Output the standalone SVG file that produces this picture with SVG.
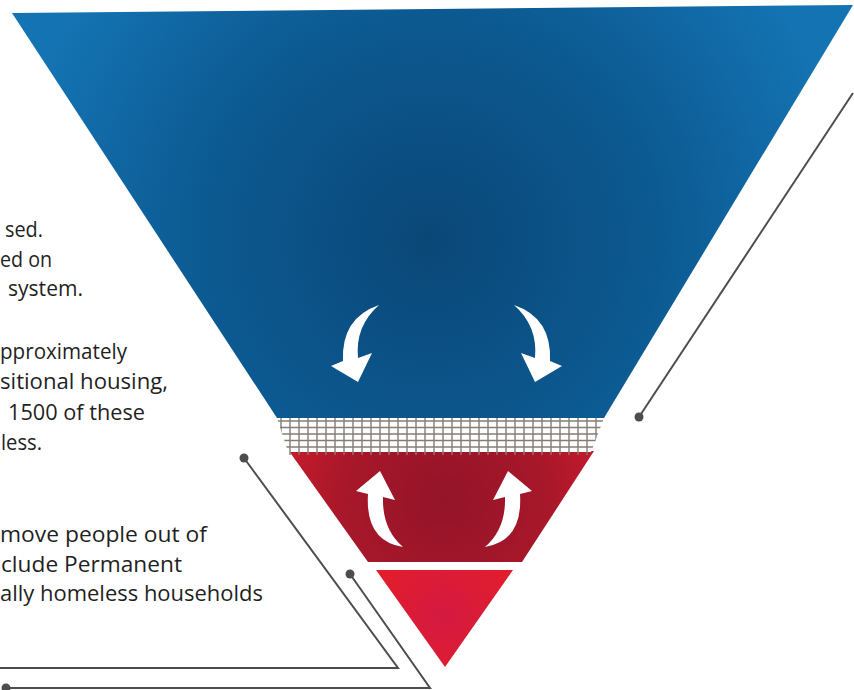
<svg xmlns="http://www.w3.org/2000/svg" width="854" height="690" viewBox="0 0 854 690">
<defs>
<radialGradient id="gBlue" cx="430" cy="240" r="420" gradientUnits="userSpaceOnUse">
<stop offset="0" stop-color="#0a4777"/>
<stop offset="0.55" stop-color="#0c5a92"/>
<stop offset="1" stop-color="#1473b2"/>
</radialGradient>
<radialGradient id="gRed" cx="445" cy="500" r="170" gradientUnits="userSpaceOnUse">
<stop offset="0" stop-color="#931428"/>
<stop offset="0.6" stop-color="#a8172a"/>
<stop offset="1" stop-color="#c81c2c"/>
</radialGradient>
<radialGradient id="gTri" cx="445" cy="615" r="90" gradientUnits="userSpaceOnUse">
<stop offset="0" stop-color="#d41a42"/>
<stop offset="1" stop-color="#e51e26"/>
</radialGradient>
<clipPath id="gridClip">
<polygon points="277,418 604,418 590,455 289,455"/>
</clipPath>
<style>
.txt{font-family:"Open Sans","Liberation Sans",sans-serif;font-size:22px;fill:#1f1f1f}
.conn{fill:none;stroke:#4d4d4d;stroke-width:2}
.dot{fill:#4d4d4d}
.arrow{fill:#ffffff}
.grid line{stroke:#857c76;stroke-width:1.4}
</style>
</defs>
<rect width="854" height="690" fill="#ffffff"/>

<g id="text">
<text class="txt" x="5" y="237" textLength="38" lengthAdjust="spacingAndGlyphs">sed.</text>
<text class="txt" x="0" y="267" textLength="52" lengthAdjust="spacingAndGlyphs">ed on</text>
<text class="txt" x="8" y="296" textLength="75" lengthAdjust="spacingAndGlyphs">system.</text>
<text class="txt" x="0" y="359" textLength="127" lengthAdjust="spacingAndGlyphs">pproximately</text>
<text class="txt" x="0" y="389" textLength="168" lengthAdjust="spacingAndGlyphs">sitional housing,</text>
<text class="txt" x="8" y="420" textLength="137" lengthAdjust="spacingAndGlyphs">1500 of these</text>
<text class="txt" x="1" y="450" textLength="41" lengthAdjust="spacingAndGlyphs">less.</text>
<text class="txt" x="0" y="542" textLength="207" lengthAdjust="spacingAndGlyphs">move people out of</text>
<text class="txt" x="1" y="572" textLength="181" lengthAdjust="spacingAndGlyphs">clude Permanent</text>
<text class="txt" x="0" y="601" textLength="263" lengthAdjust="spacingAndGlyphs">ally homeless households</text>
</g>

<g id="blue-section">
<polygon points="12,13 853,5 604,418 277,418" fill="url(#gBlue)"/>
<path class="arrow" d="M379,305 Q341,318 343,361 L331,366 L358,382 L372,353 L358,358 Q355,326 379,305 Z"/>
<path class="arrow" transform="translate(893,0) scale(-1,1)" d="M379,305 Q341,318 343,361 L331,366 L358,382 L372,353 L358,358 Q355,326 379,305 Z"/>
</g>

<g id="red-section">
<polygon points="289,451 594,451 522,562 368,562" fill="url(#gRed)"/>
<path class="arrow" d="M403,547 Q365,541 368,494 L356,491 L380,471 L395,500 L383,497 Q382,529 403,547 Z"/>
<path class="arrow" transform="translate(888,0) scale(-1,1)" d="M403,547 Q365,541 368,494 L356,491 L380,471 L395,500 L383,497 Q382,529 403,547 Z"/>
</g>

<g id="net">
<polygon points="277,418 604,418 591,452 289,452" fill="#ffffff"/>
<g class="grid" clip-path="url(#gridClip)">
<line x1="270" y1="421" x2="610" y2="421"/>
<line x1="270" y1="427.5" x2="610" y2="427.5"/>
<line x1="270" y1="434" x2="610" y2="434"/>
<line x1="270" y1="440.5" x2="610" y2="440.5"/>
<line x1="270" y1="447" x2="610" y2="447"/>
<line x1="281" y1="418" x2="281" y2="455"/>
<line x1="290" y1="418" x2="290" y2="455"/>
<line x1="299" y1="418" x2="299" y2="455"/>
<line x1="308" y1="418" x2="308" y2="455"/>
<line x1="317" y1="418" x2="317" y2="455"/>
<line x1="326" y1="418" x2="326" y2="455"/>
<line x1="335" y1="418" x2="335" y2="455"/>
<line x1="344" y1="418" x2="344" y2="455"/>
<line x1="353" y1="418" x2="353" y2="455"/>
<line x1="362" y1="418" x2="362" y2="455"/>
<line x1="371" y1="418" x2="371" y2="455"/>
<line x1="380" y1="418" x2="380" y2="455"/>
<line x1="389" y1="418" x2="389" y2="455"/>
<line x1="398" y1="418" x2="398" y2="455"/>
<line x1="407" y1="418" x2="407" y2="455"/>
<line x1="416" y1="418" x2="416" y2="455"/>
<line x1="425" y1="418" x2="425" y2="455"/>
<line x1="434" y1="418" x2="434" y2="455"/>
<line x1="443" y1="418" x2="443" y2="455"/>
<line x1="452" y1="418" x2="452" y2="455"/>
<line x1="461" y1="418" x2="461" y2="455"/>
<line x1="470" y1="418" x2="470" y2="455"/>
<line x1="479" y1="418" x2="479" y2="455"/>
<line x1="488" y1="418" x2="488" y2="455"/>
<line x1="497" y1="418" x2="497" y2="455"/>
<line x1="506" y1="418" x2="506" y2="455"/>
<line x1="515" y1="418" x2="515" y2="455"/>
<line x1="524" y1="418" x2="524" y2="455"/>
<line x1="533" y1="418" x2="533" y2="455"/>
<line x1="542" y1="418" x2="542" y2="455"/>
<line x1="551" y1="418" x2="551" y2="455"/>
<line x1="560" y1="418" x2="560" y2="455"/>
<line x1="569" y1="418" x2="569" y2="455"/>
<line x1="578" y1="418" x2="578" y2="455"/>
<line x1="587" y1="418" x2="587" y2="455"/>
<line x1="596" y1="418" x2="596" y2="455"/>
</g>
</g>

<g id="bottom-section">
<polygon points="376,570 513,570 445,667" fill="url(#gTri)"/>
</g>

<g id="connectors">
<polyline class="conn" points="853,93 639,417"/>
<circle class="dot" cx="639" cy="417" r="4.5"/>
<polyline class="conn" points="244,458 398,668 0,668"/>
<circle class="dot" cx="244" cy="458" r="4.5"/>
<polyline class="conn" points="350,574 430,688 5,688"/>
<circle class="dot" cx="350" cy="574" r="4.5"/>
<circle class="dot" cx="6" cy="688" r="4.5"/>
</g>
</svg>
